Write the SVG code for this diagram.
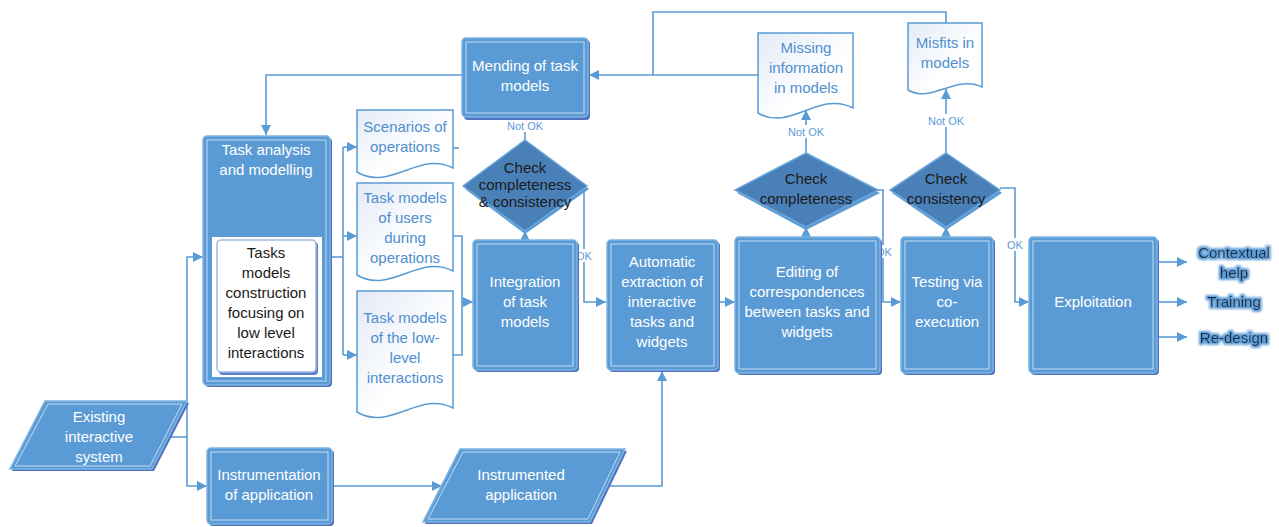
<svg xmlns="http://www.w3.org/2000/svg" width="1279" height="527" viewBox="0 0 1279 527">
<style>
.t{font-family:"Liberation Sans",Arial,sans-serif;font-size:15px;text-anchor:middle}
.w{fill:#ffffff}
.k{fill:#1a1a1a}
.b{fill:#4f8fd0}
.lbl{font-family:"Liberation Sans",Arial,sans-serif;font-size:11px;text-anchor:middle;fill:#5b9bd5}
.out{font-family:"Liberation Sans",Arial,sans-serif;font-size:15px;text-anchor:middle;fill:#1c2a3c;filter:url(#glow)}
.box{fill:#5b9bd5;stroke:#7db4e2;stroke-width:1.5}
.shd{fill:#4f72bf}
.inn{fill:none;stroke:#c4dbf0;stroke-width:1}
.dia{fill:#4a80b8;stroke:#6aa6db;stroke-width:1.5}
.doc{fill:url(#dg);stroke:#5b9bd5;stroke-width:1.5}
.c{fill:none;stroke:#5b9bd5;stroke-width:1.6}
.a{marker-end:url(#ah)}
.lb{fill:#ffffff}
</style>
<defs>
<marker id="ah" viewBox="0 0 10 10" refX="10" refY="5" markerWidth="10" markerHeight="10" markerUnits="userSpaceOnUse" orient="auto">
<path d="M0,0 L10,5 L0,10 z" fill="#5b9bd5"/>
</marker>
<linearGradient id="dg" x1="0" y1="0" x2="1" y2="1">
<stop offset="0" stop-color="#e3ebf7"/>
<stop offset="0.6" stop-color="#ffffff"/>
<stop offset="1" stop-color="#ffffff"/>
</linearGradient>
<filter id="glow" x="-20%" y="-40%" width="140%" height="180%">
<feMorphology in="SourceAlpha" operator="dilate" radius="1.6" result="d"/>
<feGaussianBlur in="d" stdDeviation="0.8" result="bl"/>
<feFlood flood-color="#5b9bd5"/>
<feComposite in2="bl" operator="in" result="g"/>
<feMerge><feMergeNode in="g"/><feMergeNode in="SourceGraphic"/></feMerge>
</filter>
</defs>

<g id="connectors">
<path class="c a" d="M462,75 H266 V135"/>
<path class="c a" d="M758,75 H589"/>
<path class="c" d="M946,23 V12 H653 V75"/>
<path class="c" d="M525,140 V118"/>
<path class="c a" d="M525,240 V231"/>
<path class="c a" d="M584,190 V302 H606"/>
<path class="c" d="M330,257 H343"/>
<path class="c" d="M343,147 V355"/>
<path class="c a" d="M343,147 H357"/>
<path class="c a" d="M343,236 H357"/>
<path class="c a" d="M343,355 H357"/>
<path class="c" d="M453,148 H459"/>
<path class="c" d="M453,236 H462 V355 H453"/>
<path class="c a" d="M462,302 H473"/>
<path class="c a" d="M718,302 H735"/>
<path class="c a" d="M806,237 V227"/>
<path class="c a" d="M806,153 V110"/>
<path class="c a" d="M878,190 H883 V302 H901"/>
<path class="c a" d="M946,237 V227"/>
<path class="c a" d="M946,153 V89"/>
<path class="c a" d="M1000,188 H1015 V302 H1029"/>
<path class="c a" d="M1157,262 H1187"/>
<path class="c a" d="M1157,302 H1187"/>
<path class="c a" d="M1157,337 H1187"/>
<path class="c" d="M170,437 H187"/>
<path class="c a" d="M187,437 V257 H203"/>
<path class="c a" d="M187,437 V486 H207"/>
<path class="c a" d="M332,486 H442"/>
<path class="c a" d="M607,486 H662 V371"/>
<rect class="lb" x="505" y="119" width="40" height="13"/>
<text class="lbl" x="525" y="130">Not OK</text>
<rect class="lb" x="786" y="125" width="40" height="13"/>
<text class="lbl" x="806" y="136">Not OK</text>
<rect class="lb" x="926" y="114" width="40" height="13"/>
<text class="lbl" x="946" y="125">Not OK</text>
<rect class="lb" x="575" y="249" width="18" height="13"/>
<text class="lbl" x="584" y="260">OK</text>
<rect class="lb" x="875" y="245" width="18" height="13"/>
<text class="lbl" x="884" y="256">OK</text>
<rect class="lb" x="1006" y="238" width="18" height="13"/>
<text class="lbl" x="1015" y="249">OK</text>
</g>

<g id="mending">
<rect class="shd" x="464" y="40" width="126" height="80" rx="4"/>
<rect class="box" x="462" y="38" width="126" height="79" rx="4"/>
<rect class="inn" x="466" y="42" width="118" height="71"/>
<text class="t w" x="525" y="71">Mending of task</text>
<text class="t w" x="525" y="91">models</text>
</g>

<g id="task-analysis">
<rect class="shd" x="205" y="138" width="127" height="249" rx="4"/>
<rect class="box" x="203" y="136" width="127" height="249" rx="4"/>
<rect class="inn" x="207" y="140" width="119" height="241"/>
<text class="t w" x="266" y="155">Task analysis</text>
<text class="t w" x="266" y="175">and modelling</text>
<rect x="212" y="237" width="110" height="140" fill="#ffffff"/>
<rect x="219" y="242" width="99" height="133" rx="4" fill="#5a7fcc"/>
<rect x="217" y="240" width="99" height="132" rx="4" fill="#ffffff" stroke="#9fb8e0" stroke-width="1.5"/>
<text class="t k" x="266" y="258">Tasks</text>
<text class="t k" x="266" y="278">models</text>
<text class="t k" x="266" y="298">construction</text>
<text class="t k" x="266" y="318">focusing on</text>
<text class="t k" x="266" y="338">low level</text>
<text class="t k" x="266" y="358">interactions</text>
</g>

<g id="doc-scenarios">
<path class="doc" d="M357,110 H453 V168 C420,150 390,192 357,172 Z"/>
<text class="t b" x="405" y="132">Scenarios of</text>
<text class="t b" x="405" y="152">operations</text>
</g>

<g id="doc-users">
<path class="doc" d="M357,183 H453 V271 C420,253 390,295 357,275 Z"/>
<text class="t b" x="405" y="203">Task models</text>
<text class="t b" x="405" y="223">of users</text>
<text class="t b" x="405" y="243">during</text>
<text class="t b" x="405" y="263">operations</text>
</g>

<g id="doc-lowlevel">
<path class="doc" d="M357,291 H453 V408 C420,390 390,432 357,412 Z"/>
<text class="t b" x="405" y="323">Task models</text>
<text class="t b" x="405" y="343">of the low-</text>
<text class="t b" x="405" y="363">level</text>
<text class="t b" x="405" y="383">interactions</text>
</g>

<g id="check-cc">
<polygon points="525,143 589,189 525,234 465,189" fill="#5b9bd5"/>
<polygon class="dia" points="525,140 587,186 525,231 463,186"/>
<text class="t k" x="525" y="173">Check</text>
<text class="t k" x="525" y="190">completeness</text>
<text class="t k" x="525" y="207">&amp; consistency</text>
</g>

<g id="integration">
<rect class="shd" x="475" y="242" width="104" height="130" rx="4"/>
<rect class="box" x="473" y="240" width="104" height="130" rx="4"/>
<rect class="inn" x="477" y="244" width="96" height="122"/>
<text class="t w" x="525" y="287">Integration</text>
<text class="t w" x="525" y="307">of task</text>
<text class="t w" x="525" y="327">models</text>
</g>

<g id="automatic">
<rect class="shd" x="609" y="242" width="111" height="130" rx="4"/>
<rect class="box" x="607" y="240" width="111" height="130" rx="4"/>
<rect class="inn" x="611" y="244" width="103" height="122"/>
<text class="t w" x="662" y="267">Automatic</text>
<text class="t w" x="662" y="287">extraction of</text>
<text class="t w" x="662" y="307">interactive</text>
<text class="t w" x="662" y="327">tasks and</text>
<text class="t w" x="662" y="347">widgets</text>
</g>

<g id="editing">
<rect class="shd" x="737" y="239" width="145" height="136" rx="4"/>
<rect class="box" x="735" y="237" width="145" height="136" rx="4"/>
<rect class="inn" x="739" y="241" width="137" height="128"/>
<text class="t w" x="807" y="277">Editing of</text>
<text class="t w" x="807" y="297">correspondences</text>
<text class="t w" x="807" y="317">between tasks and</text>
<text class="t w" x="807" y="337">widgets</text>
</g>

<g id="check-completeness">
<polygon points="806,156 880,193 806,230 737,193" fill="#5b9bd5"/>
<polygon class="dia" points="806,153 878,190 806,227 735,190"/>
<text class="t k" x="806" y="184">Check</text>
<text class="t k" x="806" y="204">completeness</text>
</g>

<g id="doc-missing">
<path class="doc" d="M758,33 H853 V108 C820,90 790,132 758,113 Z"/>
<text class="t b" x="806" y="53">Missing</text>
<text class="t b" x="806" y="73">information</text>
<text class="t b" x="806" y="93">in models</text>
</g>

<g id="testing">
<rect class="shd" x="903" y="239" width="92" height="136" rx="4"/>
<rect class="box" x="901" y="237" width="92" height="136" rx="4"/>
<rect class="inn" x="905" y="241" width="84" height="128"/>
<text class="t w" x="947" y="287">Testing via</text>
<text class="t w" x="947" y="307">co-</text>
<text class="t w" x="947" y="327">execution</text>
</g>

<g id="check-consistency">
<polygon points="946,156 1002,193 946,230 892,193" fill="#5b9bd5"/>
<polygon class="dia" points="946,153 1000,190 946,227 890,190"/>
<text class="t k" x="946" y="184">Check</text>
<text class="t k" x="946" y="204">consistency</text>
</g>

<g id="doc-misfits">
<path class="doc" d="M908,23 H982 V87 C956,74 932,104 908,90 Z"/>
<text class="t b" x="945" y="48">Misfits in</text>
<text class="t b" x="945" y="68">models</text>
</g>

<g id="exploitation">
<rect class="shd" x="1031" y="239" width="128" height="136" rx="4"/>
<rect class="box" x="1029" y="237" width="128" height="136" rx="4"/>
<rect class="inn" x="1033" y="241" width="120" height="128"/>
<text class="t w" x="1093" y="307">Exploitation</text>
</g>

<g id="out-contextual">
<text class="out" x="1234" y="258">Contextual</text>
<text class="out" x="1234" y="278">help</text>
</g>
<g id="out-training">
<text class="out" x="1234" y="307">Training</text>
</g>
<g id="out-redesign">
<text class="out" x="1234" y="343">Re-design</text>
</g>

<g id="existing">
<polygon points="47,403 189,403 154,471 12,471" fill="#4f72bf"/>
<polygon class="box" points="45,401 187,401 152,469 10,469"/>
<polygon class="inn" points="48,404 182,404 150,466 15,466"/>
<text class="t w" x="99" y="422">Existing</text>
<text class="t w" x="99" y="442">interactive</text>
<text class="t w" x="99" y="462">system</text>
</g>

<g id="instrumentation">
<rect class="shd" x="209" y="450" width="125" height="76" rx="4"/>
<rect class="box" x="207" y="448" width="125" height="76" rx="4"/>
<rect class="inn" x="211" y="452" width="117" height="68"/>
<text class="t w" x="269" y="480">Instrumentation</text>
<text class="t w" x="269" y="500">of application</text>
</g>

<g id="instrumented">
<polygon points="462,451 627,451 592,524 425,524" fill="#4f72bf"/>
<polygon class="box" points="460,449 625,449 590,522 423,522"/>
<polygon class="inn" points="463,452 620,452 588,519 428,519"/>
<text class="t w" x="521" y="480">Instrumented</text>
<text class="t w" x="521" y="500">application</text>
</g>
</svg>
